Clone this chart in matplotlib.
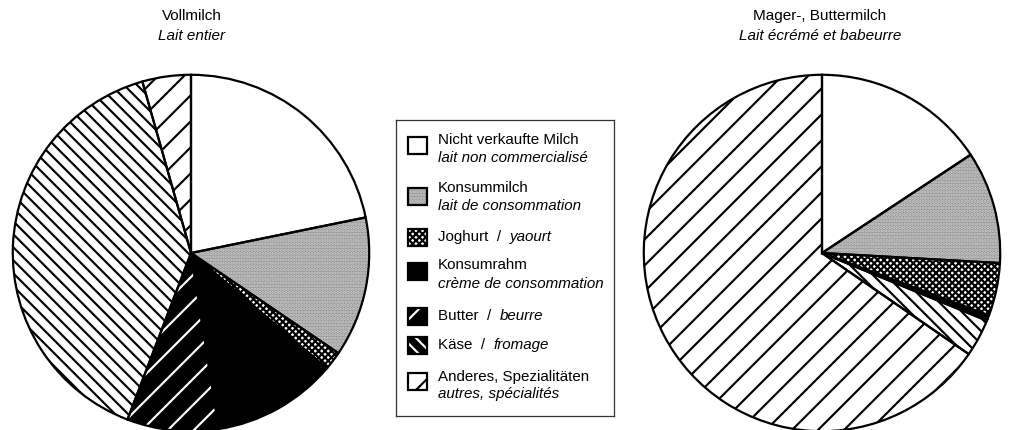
import matplotlib
matplotlib.use("Agg")
import matplotlib.pyplot as plt
from matplotlib.patches import Rectangle

DPI = 78
S = 100 / DPI  # scale so that sizes given for 100 dpi keep their pixel size

plt.rcParams['font.family'] = ['Liberation Sans', 'DejaVu Sans']
plt.rcParams['hatch.linewidth'] = 2.0

# ---- data ----
categories_de = ["Nicht verkaufte Milch", "Konsummilch", "Joghurt", "Konsumrahm",
                 "Butter", "Käse", "Anderes, Spezialitäten"]
categories_fr = ["lait non commercialisé", "lait de consommation", "yaourt",
                 "crème de consommation", "beurre", "fromage", "autres, spécialités"]
vollmilch = [21.8, 12.7, 1.7, 11.3, 8.3, 39.8, 4.4]
magermilch = [15.7, 10.2, 4.8, 0.3, 0.2, 3.4, 65.4]
title_left = ("Vollmilch", "Lait entier")
title_right = ("Mager-, Buttermilch", "Lait écrémé et babeurre")

# ---- styles (face, hatch, hatch colour) ----
styles = [
    ("white", None, "black"),
    ("#939393", "....", "#cfcfcf"),
    ("white", "xxxx", "black"),
    ("black", None, "black"),
    ("black", "/", "white"),
    ("white", "\\\\", "black"),
    ("white", "/", "black"),
]
legend_styles = list(styles)
legend_styles[5] = ("black", "\\\\", "white")

W, H = 1011, 430
fig = plt.figure(figsize=(W / DPI, H / DPI), dpi=DPI)


def px_axes(x0, top, w, h):
    return fig.add_axes([x0 / W, 1 - (top + h) / H, w / W, h / H])


def draw_pie(ax, values):
    wedges, _ = ax.pie(values, startangle=90, counterclock=False, radius=1,
                       wedgeprops=dict(linewidth=0))
    for w, (fc, hatch, hc) in zip(wedges, styles):
        w.set_facecolor(fc)
        w.set_edgecolor(hc)
        w.set_linewidth(0)
        if hatch:
            w.set_hatch(hatch)
    ax.pie(values, startangle=90, counterclock=False, radius=1,
           wedgeprops=dict(facecolor="none", edgecolor="black", linewidth=1.6 * S))
    ax.set_xlim(-1.01, 1.01)
    ax.set_ylim(-1.01, 1.01)
    ax.set_aspect("equal")
    ax.axis("off")


axL = px_axes(11, 73, 360, 360)
draw_pie(axL, vollmilch)
axR = px_axes(642, 73, 360, 360)
draw_pie(axR, magermilch)

# titles
for cx, (t1, t2) in [(192, title_left), (820, title_right)]:
    fig.text(cx / W, 1 - 16 / H, t1, ha="center", va="center", fontsize=11 * S)
    fig.text(cx / W, 1 - 36 / H, t2, ha="center", va="center", fontsize=11 * S,
             style="italic")

# legend
lx, ly, lw, lh = 396, 120, 218, 296
axg = px_axes(lx, ly, lw, lh)
axg.set_xlim(0, lw)
axg.set_ylim(lh, 0)
axg.set_xticks([])
axg.set_yticks([])
for s in axg.spines.values():
    s.set_color("#333333")
    s.set_linewidth(0.9 * S)

sq_y = [25, 76, 117, 151, 196, 225, 261]
txt_y = [(20, 38), (68, 86), (117, None), (145, 164), (196, None), (225, None), (257, 274)]
fs = 10.9 * S
fig.canvas.draw()
renderer = fig.canvas.get_renderer()
for i, (de, fr) in enumerate(zip(categories_de, categories_fr)):
    fc, hatch, hc = legend_styles[i]
    axg.add_patch(Rectangle((12, sq_y[i] - 8.5), 19, 17, facecolor=fc, edgecolor=hc,
                            linewidth=0, hatch=hatch))
    axg.add_patch(Rectangle((12, sq_y[i] - 8.5), 19, 17, facecolor="none",
                            edgecolor="black", linewidth=1.6 * S))
    y1, y2 = txt_y[i]
    if y2 is not None:
        axg.text(42, y1, de, va="center", ha="left", fontsize=fs)
        axg.text(42, y2, fr, va="center", ha="left", fontsize=fs, style="italic")
    else:
        t = axg.text(42, y1, de + "  /  ", va="center", ha="left", fontsize=fs)
        bb = t.get_window_extent(renderer)
        xend = axg.transData.inverted().transform((bb.x1, bb.y0))[0]
        axg.text(xend, y1, fr, va="center", ha="left", fontsize=fs, style="italic")

fig.savefig("out.png", dpi=DPI)
